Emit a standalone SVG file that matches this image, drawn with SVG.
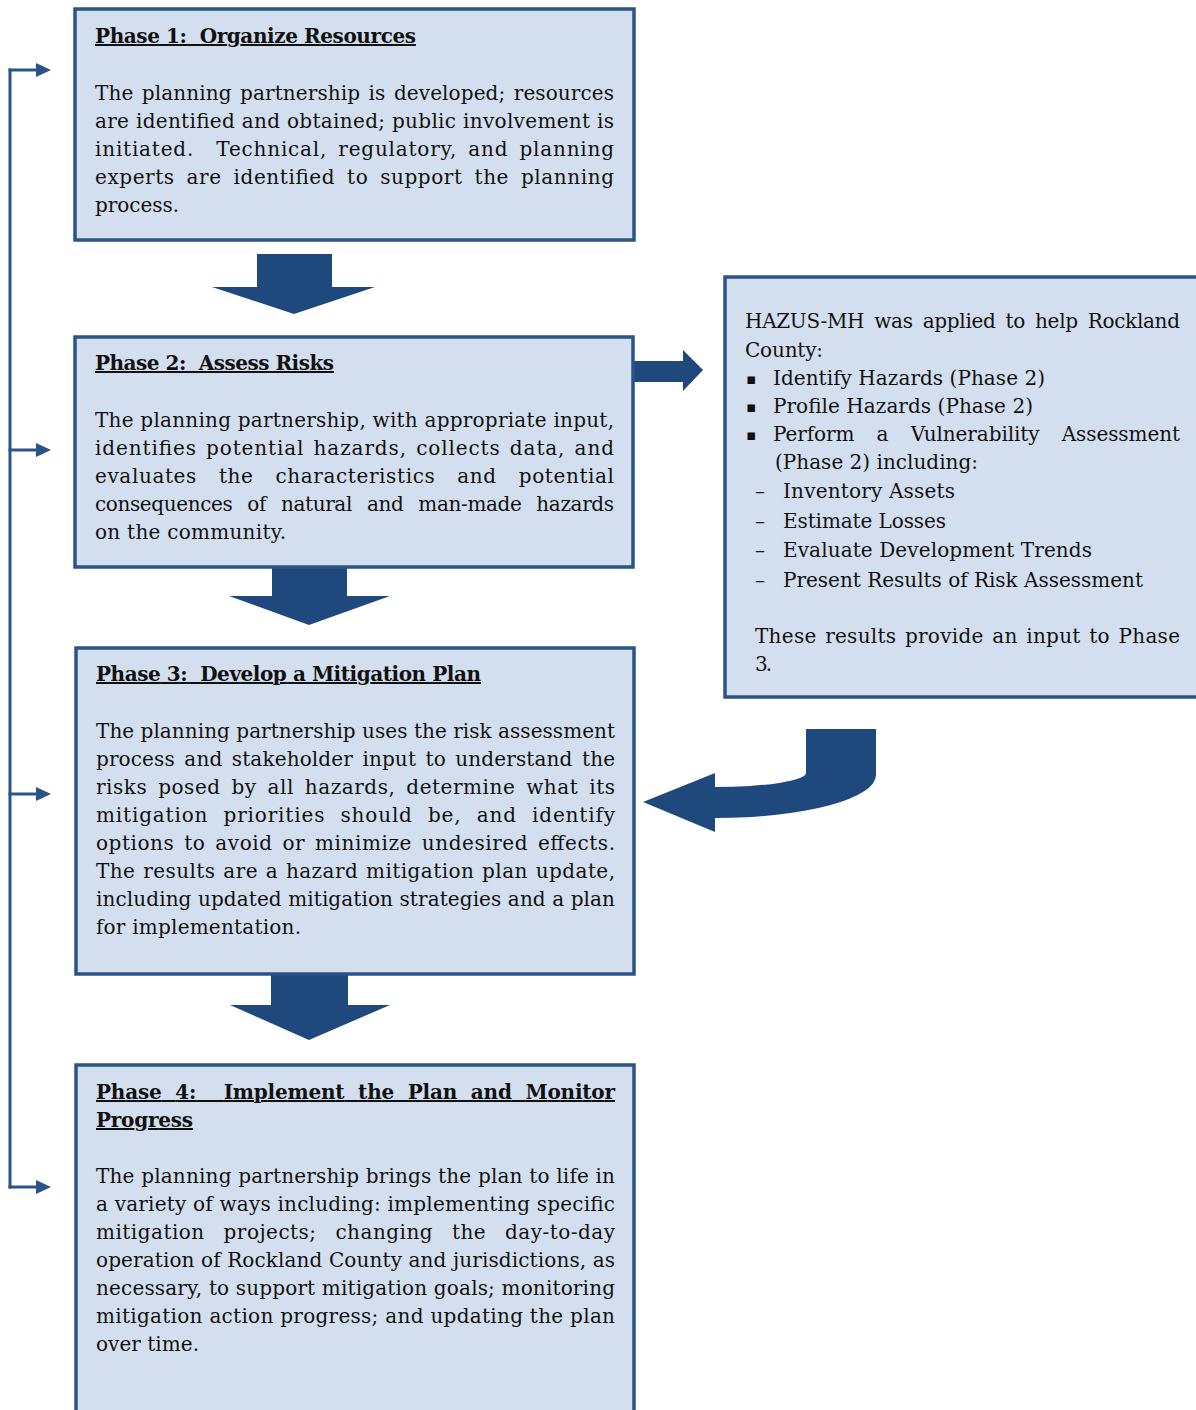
<svg xmlns="http://www.w3.org/2000/svg" width="1196" height="1410" viewBox="0 0 1196 1410">
<style>
.box{fill:#d3dfee;stroke:#2a5488;stroke-width:3.5}
.blk{fill:#1f497d}
.fb{fill:none;stroke:#2a5488;stroke-width:3}
text{font-family:"DejaVu Serif","Liberation Serif",serif;font-size:20px;fill:#111}
.h{font-weight:bold;text-decoration:underline}
.bul{font-family:"DejaVu Sans",sans-serif;font-size:15px}
</style>
<defs>
<marker id="ah" markerUnits="userSpaceOnUse" markerWidth="16" markerHeight="16" refX="0" refY="7" orient="auto">
<path d="M0,0 L15,7 L0,14 Z" fill="#2a5488"/>
</marker>
</defs>
<rect width="1196" height="1410" fill="#fff"/>

<g id="connectors">
<path class="fb" d="M10,68.5 V1188.5"/>
<path class="fb" d="M8.5,70 H36" marker-end="url(#ah)"/>
<path class="fb" d="M8.5,450 H36" marker-end="url(#ah)"/>
<path class="fb" d="M8.5,794 H36" marker-end="url(#ah)"/>
<path class="fb" d="M8.5,1187 H36" marker-end="url(#ah)"/>
<polygon class="blk" points="257,254 332,254 332,287 375,287 294,314 212,287 257,287"/>
<polygon class="blk" points="272,568 347,568 347,596 390,596 309,625 229,596 272,596"/>
<polygon class="blk" points="271,975 348,975 348,1005 390,1005 309,1040 230,1005 271,1005"/>
<polygon class="blk" points="633,361 683,361 683,350 703,370 683,391 683,382 633,382"/>
<path class="blk" d="M806,729 H876 V775 A161,43 0 0 1 715,818 V832 L643,802 L715,773 V787 A91,14 0 0 0 806,773 Z"/>
</g>

<g id="phase1">
<rect class="box" x="75" y="9" width="559" height="231"/>
<text class="h" x="95" y="43" textLength="321" xml:space="preserve">Phase 1:  Organize Resources</text>
<text x="95" y="100" textLength="519" style="word-spacing:2px">The planning partnership is developed; resources</text>
<text x="95" y="128" textLength="519">are identified and obtained; public involvement is</text>
<text x="95" y="156" textLength="519" style="word-spacing:4px" xml:space="preserve">initiated.  Technical, regulatory, and planning</text>
<text x="95" y="184" textLength="519" style="word-spacing:5px">experts are identified to support the planning</text>
<text x="95" y="212" textLength="84">process.</text>
</g>

<g id="phase2">
<rect class="box" x="75" y="337" width="558" height="230"/>
<text class="h" x="95" y="370" textLength="239" xml:space="preserve">Phase 2:  Assess Risks</text>
<text x="95" y="427" textLength="519">The planning partnership, with appropriate input,</text>
<text x="95" y="455" textLength="519" style="word-spacing:2px">identifies potential hazards, collects data, and</text>
<text x="95" y="483" textLength="519" style="word-spacing:15px">evaluates the characteristics and potential</text>
<text x="95" y="511" textLength="519" style="word-spacing:9px">consequences of natural and man-made hazards</text>
<text x="95" y="539" textLength="191">on the community.</text>
</g>

<g id="phase3">
<rect class="box" x="76" y="648" width="558" height="326"/>
<text class="h" x="96" y="681" textLength="385" xml:space="preserve">Phase 3:  Develop a Mitigation Plan</text>
<text x="96" y="738" textLength="519">The planning partnership uses the risk assessment</text>
<text x="96" y="766" textLength="519" style="word-spacing:3px">process and stakeholder input to understand the</text>
<text x="96" y="794" textLength="519" style="word-spacing:4px">risks posed by all hazards, determine what its</text>
<text x="96" y="822" textLength="519" style="word-spacing:8px">mitigation priorities should be, and identify</text>
<text x="96" y="850" textLength="519" style="word-spacing:3px">options to avoid or minimize undesired effects.</text>
<text x="96" y="878" textLength="519" style="word-spacing:1px">The results are a hazard mitigation plan update,</text>
<text x="96" y="906" textLength="519">including updated mitigation strategies and a plan</text>
<text x="96" y="934" textLength="205">for implementation.</text>
</g>

<g id="phase4">
<rect class="box" x="76" y="1065" width="558" height="360"/>
<text class="h" x="96" y="1099" textLength="519" style="word-spacing:7px" xml:space="preserve">Phase 4:  Implement the Plan and Monitor</text>
<text class="h" x="96" y="1127" textLength="97">Progress</text>
<text x="96" y="1183" textLength="519">The planning partnership brings the plan to life in</text>
<text x="96" y="1211" textLength="519">a variety of ways including: implementing specific</text>
<text x="96" y="1239" textLength="519" style="word-spacing:12px">mitigation projects; changing the day-to-day</text>
<text x="96" y="1267" textLength="519">operation of Rockland County and jurisdictions, as</text>
<text x="96" y="1295" textLength="519">necessary, to support mitigation goals; monitoring</text>
<text x="96" y="1323" textLength="519">mitigation action progress; and updating the plan</text>
<text x="96" y="1351" textLength="103">over time.</text>
</g>

<g id="hazus">
<rect class="box" x="725" y="277" width="475" height="420"/>
<text x="745" y="328" textLength="435" style="word-spacing:4px">HAZUS-MH was applied to help Rockland</text>
<text x="745" y="357" textLength="78">County:</text>
<text class="bul" x="746" y="384">▪</text>
<text x="773" y="385" textLength="272">Identify Hazards (Phase 2)</text>
<text class="bul" x="746" y="412">▪</text>
<text x="773" y="413" textLength="260">Profile Hazards (Phase 2)</text>
<text class="bul" x="746" y="440">▪</text>
<text x="773" y="441" textLength="407" style="word-spacing:16px">Perform a Vulnerability Assessment</text>
<text x="775" y="469" textLength="203">(Phase 2) including:</text>
<text x="755" y="498">–</text>
<text x="783" y="498" textLength="172">Inventory Assets</text>
<text x="755" y="528">–</text>
<text x="783" y="528" textLength="163">Estimate Losses</text>
<text x="755" y="557">–</text>
<text x="783" y="557" textLength="309">Evaluate Development Trends</text>
<text x="755" y="587">–</text>
<text x="783" y="587" textLength="360">Present Results of Risk Assessment</text>
<text x="755" y="643" textLength="425" style="word-spacing:2px">These results provide an input to Phase</text>
<text x="755" y="671" textLength="17">3.</text>
</g>
</svg>
